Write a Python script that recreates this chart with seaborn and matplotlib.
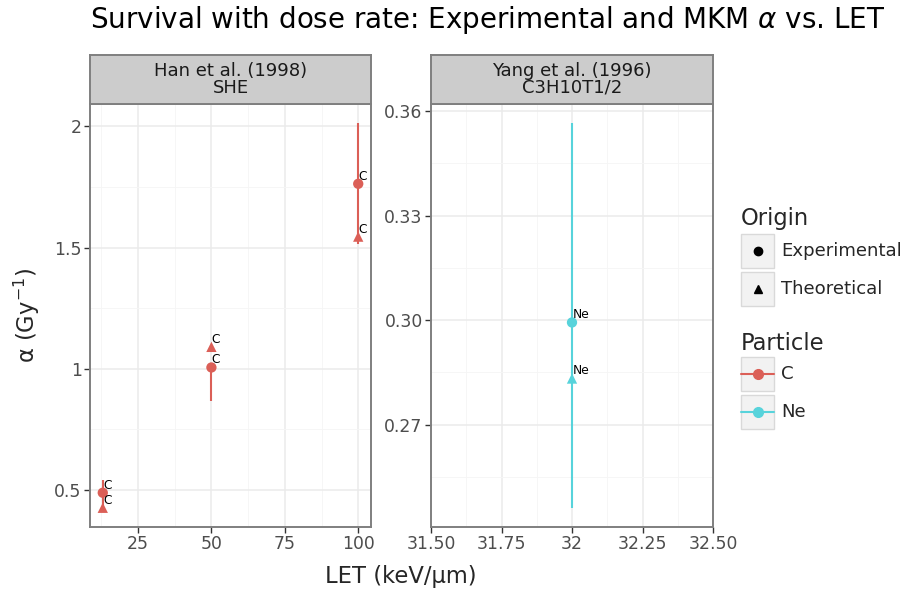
import numpy as np
import pandas as pd
import matplotlib
matplotlib.use("Agg")
import matplotlib.pyplot as plt
from matplotlib.patches import Rectangle
from matplotlib.lines import Line2D
import seaborn as sns

# ---------------- data ----------------
han_let = [13, 50, 100]
han_alpha_exp = [0.488, 1.005, 1.763]
han_exp_ymin = [0.435, 0.868, 1.515]
han_exp_ymax = [0.541, 1.005, 2.013]
han_alpha_theo = [0.426, 1.090, 1.545]

yang_let = [32]
yang_alpha_exp = [0.2993]
yang_exp_ymin = [0.2461]
yang_exp_ymax = [0.3565]
yang_alpha_theo = [0.2832]

panel_titles = ["Han et al. (1998)\nSHE", "Yang et al. (1996)\nC3H10T1/2"]
particles = ["C", "Ne"]
origins = ["Experimental", "Theoretical"]
palette = {"C": "#db5f57", "Ne": "#57d3db"}
markers = {"Experimental": "o", "Theoretical": "^"}

han_xticks = [25, 50, 75, 100]
han_xticklabels = ["25", "50", "75", "100"]
han_yticks = [0.5, 1.0, 1.5, 2.0]
han_yticklabels = ["0.5", "1", "1.5", "2"]
yang_xticks = [31.5, 31.75, 32, 32.25, 32.5]
yang_xticklabels = ["31.50", "31.75", "32", "32.25", "32.50"]
yang_yticks = [0.27, 0.30, 0.33, 0.36]
yang_yticklabels = ["0.27", "0.30", "0.33", "0.36"]


def make_df(lets, exp, ymin, ymax, theo, particle):
    rows = []
    for l, e, lo, hi in zip(lets, exp, ymin, ymax):
        rows.append(dict(LET=l, alpha=e, ymin=lo, ymax=hi, Origin="Experimental", Particle=particle))
    for l, t in zip(lets, theo):
        rows.append(dict(LET=l, alpha=t, ymin=np.nan, ymax=np.nan, Origin="Theoretical", Particle=particle))
    return pd.DataFrame(rows)


df_han = make_df(han_let, han_alpha_exp, han_exp_ymin, han_exp_ymax, han_alpha_theo, "C")
df_yang = make_df(yang_let, yang_alpha_exp, yang_exp_ymin, yang_exp_ymax, yang_alpha_theo, "Ne")

# ---------------- figure ----------------
sns.set_theme(style="white")
plt.rcParams["font.family"] = ["DejaVu Sans"]
W, H = 910, 592
fig = plt.figure(figsize=(W / 100, H / 100), dpi=100)


def fx(px):
    return px / W


def fy(py):
    return 1 - py / H


panel_y0, panel_y1 = 104, 527
panels = [(90, 371), (431, 713)]


def limits(lo, hi):
    if hi - lo == 0:
        return lo - 0.5, hi + 0.5
    d = (hi - lo) * 0.05
    return lo - d, hi + d


specs = [
    (df_han, han_xticks, han_xticklabels, han_yticks, han_yticklabels),
    (df_yang, yang_xticks, yang_xticklabels, yang_yticks, yang_yticklabels),
]

for i, ((x0, x1), (df, xt, xtl, yt, ytl)) in enumerate(zip(panels, specs)):
    ax = fig.add_axes([fx(x0), fy(panel_y1), fx(x1 - x0), (panel_y1 - panel_y0) / H])
    ax.set_facecolor("white")
    exp = df[df.Origin == "Experimental"]
    for _, r in exp.iterrows():
        ax.vlines(r.LET, r.ymin, r.ymax, color=palette[r.Particle], lw=1.5, zorder=2)
    sns.scatterplot(data=df, x="LET", y="alpha", hue="Particle", style="Origin",
                    palette=palette, markers=markers, s=55, edgecolor="none",
                    linewidth=0, legend=False, ax=ax, zorder=3)
    for _, r in df.iterrows():
        ax.annotate(r.Particle, (r.LET, r.alpha), xytext=(0.3, 0.8), textcoords="offset points",
                    ha="left", va="bottom", fontsize=8.8, color="black", zorder=4)
    ax.set_xticks(xt)
    ax.set_xticklabels(xtl)
    ax.set_yticks(yt)
    ax.set_yticklabels(ytl)
    # minor ticks halfway
    dx = xt[1] - xt[0]
    dy = yt[1] - yt[0]
    xmin = [xt[0] - dx / 2] + [(a + b) / 2 for a, b in zip(xt[:-1], xt[1:])] + [xt[-1] + dx / 2]
    ymn = [yt[0] - dy / 2] + [(a + b) / 2 for a, b in zip(yt[:-1], yt[1:])] + [yt[-1] + dy / 2]
    ax.set_xticks(xmin, minor=True)
    ax.set_yticks(ymn, minor=True)
    xs = list(df.LET)
    ys = list(df.alpha) + list(df.ymin.dropna()) + list(df.ymax.dropna())
    ax.set_xlim(*limits(min(xs), max(xs)))
    ax.set_ylim(*limits(min(ys), max(ys)))
    ax.grid(True, which="major", color="#ebebeb", lw=1.1, zorder=0)
    ax.grid(True, which="minor", color="#f5f5f5", lw=0.6, zorder=0)
    ax.set_axisbelow(True)
    ax.tick_params(which="major", direction="out", length=4, width=1, color="#333333",
                   labelsize=12.4, labelcolor="#4d4d4d", pad=2,
                   bottom=True, left=True)
    ax.tick_params(which="minor", length=0)
    for sp in ax.spines.values():
        sp.set_color("#7f7f7f")
        sp.set_linewidth(1.4)
    ax.set_xlabel("")
    ax.set_ylabel("")
    # strip
    sax = fig.add_axes([fx(x0), fy(panel_y0), fx(x1 - x0), (panel_y0 - 55) / H])
    sax.set_facecolor("#cccccc")
    sax.set_xticks([])
    sax.set_yticks([])
    for sp in sax.spines.values():
        sp.set_color("#7f7f7f")
        sp.set_linewidth(1.4)
    sax.text(0.5, 0.5, panel_titles[i], ha="center", va="center", fontsize=13,
             color="#1a1a1a", linespacing=0.9, transform=sax.transAxes)

fig.text(fx(488), fy(20), r"Survival with dose rate: Experimental and MKM $\alpha$ vs. LET",
         ha="center", va="center", fontsize=20, color="black")
fig.text(fx(401), fy(576), "LET (keV/μm)", ha="center", va="center", fontsize=16.3)
fig.text(fx(27), fy(316), "α (Gy$^{-1}$)", ha="center", va="center", fontsize=16.3, rotation=90)

# ---------------- legend ----------------
def key_box(y_top):
    r = Rectangle((fx(741), fy(y_top + 34)), fx(33), 34 / H, transform=fig.transFigure,
                  facecolor="#f2f2f2", edgecolor="#d9d9d9", lw=1.0)
    fig.add_artist(r)


fig.text(fx(741), fy(219), "Origin", ha="left", va="center", fontsize=16.3)
for j, o in enumerate(origins):
    yt_ = 234 + j * 38
    key_box(yt_)
    fig.add_artist(Line2D([fx(757.5)], [fy(yt_ + 17)], marker=markers[o], color="black",
                          markersize=6, linestyle="none", transform=fig.transFigure))
    fig.text(fx(781), fy(yt_ + 17), o, ha="left", va="center", fontsize=13.1)

fig.text(fx(741), fy(343), "Particle", ha="left", va="center", fontsize=16.3)
for j, p in enumerate(particles):
    yt_ = 357 + j * 38
    key_box(yt_)
    fig.add_artist(Line2D([fx(741), fx(774)], [fy(yt_ + 17)] * 2, color=palette[p], lw=1.5,
                          transform=fig.transFigure))
    fig.add_artist(Line2D([fx(757.5)], [fy(yt_ + 17)], marker="o", color=palette[p],
                          markersize=7, linestyle="none", transform=fig.transFigure))
    fig.text(fx(781), fy(yt_ + 17), p, ha="left", va="center", fontsize=13.1)

fig.savefig("out.png", dpi=100)
